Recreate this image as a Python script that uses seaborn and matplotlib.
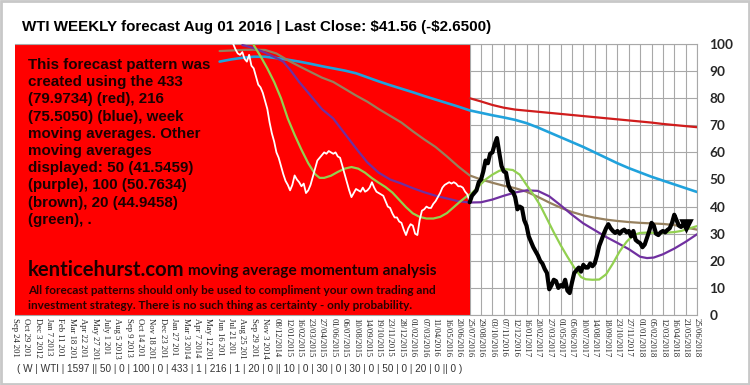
import numpy as np
import pandas as pd
import seaborn as sns
import matplotlib.pyplot as plt
from matplotlib.patches import Rectangle

# x axis: one label every 5 weeks, Sep 24 2012 -> 25/06/2018
tick_labels = ["Sep 24 2012", "Oct 29 2012", "Dec 3 2012", "Jan 7 2013", "Feb 11 2013", "Mar 18 2013",
               "Apr 22 2013", "May 27 2013", "July 1 2013", "Aug 5 2013", "Sep 9 2013", "Oct 14 2013",
               "Nov 18 2013", "Dec 23 2013", "Jan 27 2014", "Mar 3 2014", "Apr 7 2014", "May 12 2014",
               "Jun 16 2014", "Jul 21 2014", "Aug 25 2014", "Sep 29 2014", "Nov 3 2014", "08/12/2014",
               "12/01/2015", "16/02/2015", "23/03/2015", "27/04/2015", "01/06/2015", "06/07/2015",
               "10/08/2015", "14/09/2015", "19/10/2015", "23/11/2015", "28/12/2015", "01/02/2016",
               "07/03/2016", "11/04/2016", "16/05/2016", "20/06/2016", "25/07/2016", "29/08/2016",
               "03/10/2016", "07/11/2016", "12/12/2016", "16/01/2017", "20/02/2017", "27/03/2017",
               "01/05/2017", "05/06/2017", "10/07/2017", "14/08/2017", "18/09/2017", "23/10/2017",
               "27/11/2017", "01/01/2018", "05/02/2018", "12/03/2018", "16/04/2018", "21/05/2018",
               "25/06/2018"]
tick_step = 5          # weeks between labels
forecast_start = 200   # week index of 25/07/2016

# weekly close (history), weeks 96..200
hist_start = 96
hist_close = [100, 98, 96.5, 96, 97, 94.5, 93.5, 96, 92, 91, 88, 85, 84, 82, 79, 76, 71, 67, 64, 60,
              58, 55, 52, 49.5, 48, 46, 48, 51.5, 50, 49, 47.5, 48.5, 45, 46, 48, 51, 54, 57, 58, 59,
              60, 59.5, 60.5, 60, 59.5, 60, 58.5, 58, 55, 52, 49, 46, 43.5, 45, 46.5, 46, 45.5, 47,
              45.5, 46, 47, 49, 47, 45.5, 45, 44.5, 44, 42, 40, 39.5, 37.5, 36, 36, 34.5, 34, 31.5,
              29.5, 32, 33.5, 33, 30, 29.5, 35, 38.5, 39, 40, 39.5, 39.5, 41, 42, 43.5, 45, 47, 48,
              48.5, 49, 48.5, 49, 48.5, 47.5, 47.5, 47, 45.5, 44.5, 41.6]

# forecast pattern, weeks 200..296
fc_close = [41.6, 44, 45, 46, 49, 50, 53, 57, 56, 59.5, 60, 63, 65.3, 60, 55, 53, 52.5, 48, 46, 45.5,
            43.5, 39, 40, 39.5, 35, 33, 29, 27, 25, 23.5, 22, 20, 19, 17, 15.5, 9.5, 11, 13, 12.5, 10,
            11, 10.5, 13, 9, 8.1, 12, 15.5, 16.5, 17.5, 16, 18.5, 17.5, 17.5, 19, 18, 19, 22, 25.5,
            27.7, 30, 32, 33.5, 32, 31, 30.3, 31, 30, 31, 31.5, 30.5, 31, 29, 31, 27.7, 27, 26.5, 25,
            26, 28.5, 31, 34, 33, 30, 29.5, 30.5, 31, 30.5, 31.4, 32, 34, 37, 35, 33, 32.5, 33.5, 33,
            33.2]

# 433 week MA (red)
ma433_w = [200, 205, 210, 215, 220, 225, 230, 235, 240, 245, 250, 255, 260, 265, 270, 275, 280, 285, 290, 295, 300]
ma433 = [80, 78.8, 77.5, 76.5, 75.8, 75.4, 75, 74.6, 74.2, 73.8, 73.4, 73, 72.6, 72.2, 71.8, 71.4, 71,
         70.5, 70.1, 69.7, 69.3]

# 216 week MA (blue)
ma216_w = list(range(90, 301, 5))
ma216 = [93.5, 94.3, 94.9, 95.3, 95.3, 94.8, 94.2, 93.5, 92.7, 91.8, 91, 90.2, 89.2, 87.7, 86.2, 84.8,
         83.5, 82.2, 80.8, 79.5, 78.2, 76.9, 75.5, 74.6, 73.7, 72.9, 72, 70.8, 69.2, 67.4, 65.6, 63.8,
         62, 60, 58, 56, 54.2, 52.6, 51, 49.6, 48.2, 46.8, 45.4]

# 100 week MA (brown)
ma100_w = list(range(90, 301, 5))
ma100 = [97.4, 97.6, 97.8, 97.9, 97.8, 96.5, 94, 91.8, 89.7, 87.6, 86, 83.5, 81, 78.7, 76, 73.5, 71,
         67.8, 64.8, 62, 58.5, 54.8, 51.5, 50, 48.8, 47.7, 46.8, 45.5, 43.6, 41.5, 39.6, 38, 36.8, 35.9,
         35.2, 34.7, 34.3, 34, 33.8, 33.6, 33.2, 32.3, 31.5]

# 50 week MA (purple)
ma50_w = [100, 105, 110, 115, 118, 121, 125, 130, 135, 140, 145, 150, 155, 160, 165, 170, 175, 180, 185,
          190, 195, 200, 205, 210, 215, 220, 225, 230, 235, 240, 245, 250, 255, 260, 265, 270, 275, 278,
          281, 285, 290, 295, 300]
ma50 = [99.6, 98.5, 96.8, 94.8, 93.5, 90.5, 86, 81, 76, 72.5, 67, 61.5, 56.3, 52.5, 50, 48.5, 46.8, 45.3,
        44, 43, 42, 41.5, 41.6, 42.6, 44, 45.2, 46, 45.8, 43.8, 40.5, 37, 33.8, 31.3, 28.8, 26.6, 24.3,
        21.5, 21, 21.2, 22.4, 24.5, 27, 29.8]

# 20 week MA (green)
ma20_w = [105, 108, 111, 114, 117, 120, 123, 126, 129, 132, 134, 136, 139, 142, 145, 148, 151, 154, 157,
          160, 163, 166, 169, 172, 175, 178, 181, 184, 187, 190, 193, 196, 199, 201, 204, 207, 210, 213,
          216, 219, 222, 225, 228, 231, 234, 237, 240, 243, 246, 249, 251, 254, 257, 260, 263, 266, 269,
          272, 275, 278, 281, 284, 287, 290, 293, 296, 300]
ma20 = [99.6, 95.5, 91, 86, 80, 72.5, 66.5, 61, 56, 52, 50.6, 50.6, 51.4, 52.8, 54, 54.6, 54, 52.5, 50.5,
        48.8, 47.2, 45.2, 42.5, 39.8, 37.5, 36.2, 35.6, 35.6, 36.2, 37.6, 39.8, 42, 44, 45, 47.5, 50, 51.8,
        53.2, 53.8, 53.5, 51.8, 48, 44.5, 40.5, 35.5, 30.5, 25.8, 21.5, 17.5, 14, 13.2, 13, 13.1, 15, 19,
        23.5, 27, 29.5, 30.3, 30.4, 30.3, 30.2, 30.4, 30.6, 31, 31.8, 32.8]

title = "WTI WEEKLY forecast Aug 01 2016 | Last Close: \\$41.56 (-\\$2.6500)"
box_text = ("This forecast pattern was\ncreated using the 433\n(79.9734) (red), 216\n(75.5050) (blue), week\n"
            "moving averages. Other\nmoving averages\ndisplayed: 50 (41.5459)\n(purple), 100 (50.7634)\n"
            "(brown), 20 (44.9458)\n(green), .")
disclaimer = ("All forecast patterns should only be used to compliment your own trading and\n"
              "investment strategy. There is no such thing as certainty - only probability.")
settings = "( W | WTI | 1597 || 50 | 0 | 100 | 0 | 433 | 1 | 216 | 1 | 20 | 0 || 10 | 0 | 30 | 0 | 30 | 0 | 50 | 0 | 20 | 0 || 0 )"

sns.set_style('white')
plt.rcParams['font.family'] = ['Liberation Sans', 'DejaVu Sans']

W, H = 750, 385
fig = plt.figure(figsize=(W / 100, H / 100), dpi=100)


def fx(x):
    return x / W


def fy(y):
    return 1 - y / H


ax = fig.add_axes([fx(15), fy(315), fx(697) - fx(15), fy(44) - fy(315)])

# red history panel
ax.axvspan(0, forecast_start, color='#ff0000', lw=0, zorder=1)

hist_w = np.arange(hist_start, hist_start + len(hist_close))
fc_w = np.arange(forecast_start, forecast_start + len(fc_close))

lines = [
    (ma433_w, ma433, '#d01c1c', 1.6),
    (ma216_w, ma216, '#20a2dc', 1.9),
    (ma100_w, ma100, '#96805e', 1.6),
    (ma50_w, ma50, '#7030a0', 1.6),
    (ma20_w, ma20, '#92d050', 1.6),
    (hist_w, hist_close, '#ffffff', 1.3),
]
for xs, ys, col, lw in lines:
    sns.lineplot(x=xs, y=ys, color=col, linewidth=lw, ax=ax, zorder=3, estimator=None, sort=False)

sns.lineplot(x=fc_w, y=fc_close, color='black', linewidth=3.0, ax=ax, zorder=4, estimator=None, sort=False)
sns.scatterplot(x=fc_w[-2:-1], y=[fc_close[-2]], marker='v', s=110, color='black', ax=ax, zorder=5,
                linewidth=0)

ax.set_xlim(0, tick_step * (len(tick_labels) - 1))
ax.set_ylim(0, 100)
ax.set_xticks(np.arange(len(tick_labels)) * tick_step)
ax.set_xticklabels([t[:10] for t in tick_labels], rotation=-90, fontsize=6.2,
                   family=['Liberation Serif'], color='#222222', va='top', ha='center')
ax.set_yticks(np.arange(0, 101, 10))
ax.yaxis.tick_right()
ax.tick_params(axis='y', length=0, pad=9, labelsize=9.8)
ax.tick_params(axis='x', length=0, pad=2)
for lab in ax.get_yticklabels():
    lab.set_family(['Lato', 'DejaVu Sans'])
    lab.set_fontweight('bold')
ax.grid(True, color='#a8a8a8', lw=0.8)
ax.set_axisbelow(True)
for side in ['top', 'right', 'bottom']:
    ax.spines[side].set_color('#a8a8a8')
    ax.spines[side].set_linewidth(0.8)
ax.spines['left'].set_visible(False)
ax.set_xlabel('')
ax.set_ylabel('')

# texts
fig.text(fx(22), fy(27), title, fontsize=10.9, fontweight='bold', va='center', ha='left', color='black')
fig.text(fx(28), fy(58), box_text, fontsize=10.9, fontweight='bold', va='top', ha='left',
         color='#1c0000', linespacing=1.29)
fig.text(fx(28), fy(270), "kenticehurst.com", fontsize=14.6, fontweight='bold', va='center', ha='left',
         color='#1c0000', family=['Lato', 'DejaVu Sans'])
fig.text(fx(188), fy(271), "moving average momentum analysis", fontsize=11.1, va='center', ha='left',
         color='#1c0000', family=['Lato', 'DejaVu Sans'], fontweight='bold')
fig.text(fx(28), fy(298), disclaimer, fontsize=8.45, fontweight='bold', va='center', ha='left',
         color='#2a0000', family=['Lato', 'DejaVu Sans'], linespacing=1.38)
fig.text(fx(17), fy(369), settings, fontsize=7.2, va='center', ha='left', color='#333333')

# frame round the picture
fig.patches.append(Rectangle((0.001, 0.002), 0.997, 0.995, transform=fig.transFigure, fill=False,
                             edgecolor='#c8c8c8', lw=2))

fig.savefig('out.png', dpi=100, facecolor='white')
